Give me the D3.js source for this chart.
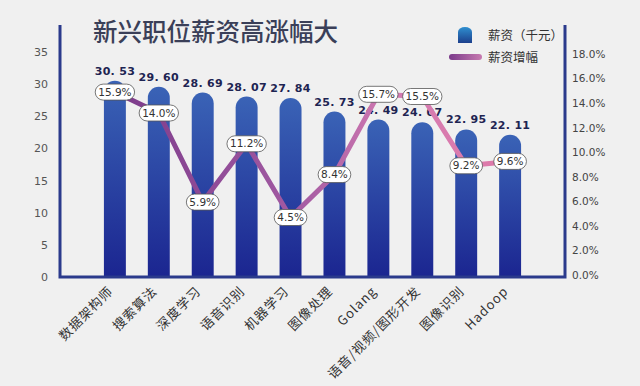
<!DOCTYPE html>
<html lang="zh">
<head>
<meta charset="UTF-8" />
<title>新兴职位薪资高涨幅大</title>
<script src="https://d3js.org/d3.v7.min.js"></script>
<style>
  body { margin: 0; background: #f0f0f0; }
  svg { display: block; font-family: "Noto Sans CJK SC", "Noto Sans", sans-serif; }
</style>
</head>
<body>
<script>
const categories = ['数据架构师', '搜索算法', '深度学习', '语音识别', '机器学习', '图像处理', 'Golang', '语音/视频/图形开发', '图像识别', 'Hadoop'];
const salary = [30.53, 29.60, 28.69, 28.07, 27.84, 25.73, 24.49, 24.07, 22.95, 22.11];
const growth = [15.9, 14.0, 5.9, 11.2, 4.5, 8.4, 15.7, 15.5, 9.2, 9.6];
const leftTicks = [0, 5, 10, 15, 20, 25, 30, 35];
const rightTicks = [0, 2, 4, 6, 8, 10, 12, 14, 16, 18];

const W = 640, H = 386;
const left = 60, right = 565, bottom = 277;
const navy = '#2b3a8c';

const svg = d3.select('body').append('svg').attr('width', W).attr('height', H);

const defs = svg.append('defs');
const barGrad = defs.append('linearGradient').attr('id', 'barGrad')
  .attr('x1', 0).attr('y1', 0).attr('x2', 0).attr('y2', 1);
barGrad.append('stop').attr('offset', '0%').attr('stop-color', '#3a63b6');
barGrad.append('stop').attr('offset', '100%').attr('stop-color', '#1b2590');

const lineGrad = defs.append('linearGradient').attr('id', 'lineGrad')
  .attr('gradientUnits', 'userSpaceOnUse')
  .attr('x1', 110).attr('y1', 0).attr('x2', 520).attr('y2', 0);
lineGrad.append('stop').attr('offset', '0%').attr('stop-color', '#7a3a8a');
lineGrad.append('stop').attr('offset', '45%').attr('stop-color', '#a25aa2');
lineGrad.append('stop').attr('offset', '70%').attr('stop-color', '#d47bb2');
lineGrad.append('stop').attr('offset', '100%').attr('stop-color', '#e07aa8');

const legGrad = defs.append('linearGradient').attr('id', 'legGrad')
  .attr('x1', 0).attr('y1', 0).attr('x2', 1).attr('y2', 0);
legGrad.append('stop').attr('offset', '0%').attr('stop-color', '#7a3a8a');
legGrad.append('stop').attr('offset', '100%').attr('stop-color', '#c77ab0');

const legIconGrad = defs.append('linearGradient').attr('id', 'legIconGrad')
  .attr('x1', 0).attr('y1', 0).attr('x2', 0).attr('y2', 1);
legIconGrad.append('stop').attr('offset', '0%').attr('stop-color', '#2f8fd0');
legIconGrad.append('stop').attr('offset', '100%').attr('stop-color', '#1c3f8c');

// scales
const x = d3.scaleBand().domain(categories).range([left, right])
  .paddingInner(0.5).paddingOuter(1);
const y = d3.scaleLinear().domain([0, 35]).range([bottom, 52]);
const yRight = d3.scaleLinear().domain([0, 18]).range([275, 54]);
const yLine = d3.scaleLinear().domain([0, 18]).range([267, 69]);

// title
svg.append('text')
  .attr('x', 93).attr('y', 41)
  .attr('font-size', 24.5).attr('fill', '#3a3f58')
  .attr('font-weight', 500)
  .text('新兴职位薪资高涨幅大');

// bars with rounded tops
const bw = x.bandwidth();
const r = bw / 2;
svg.append('g').selectAll('path')
  .data(salary)
  .join('path')
  .attr('fill', 'url(#barGrad)')
  .attr('d', (d, i) => {
    const x0 = x(categories[i]), top = y(d);
    return `M${x0},${bottom}L${x0},${top + r}A${r},${r} 0 0 1 ${x0 + bw},${top + r}L${x0 + bw},${bottom}Z`;
  });

// value labels above bars
svg.append('g').selectAll('text')
  .data(salary)
  .join('text')
  .attr('x', (d, i) => x(categories[i]) + bw / 2)
  .attr('y', d => y(d) - 6)
  .attr('text-anchor', 'middle')
  .attr('font-family', 'DejaVu Sans, sans-serif')
  .attr('font-weight', 'bold')
  .attr('font-size', 11)
  .attr('letter-spacing', 0.3)
  .attr('fill', '#1e2452')
  .text(d => d.toFixed(2).replace('.', '. '));

// axes lines
const axisG = svg.append('g').attr('stroke', navy).attr('stroke-width', 3).attr('fill', 'none');
axisG.append('path').attr('d', `M${left},25L${left},${bottom}L${right},${bottom}L${right},25`);

// left ticks
const yAxis = svg.append('g').attr('transform', `translate(${left},0)`)
  .call(d3.axisLeft(y).tickValues(leftTicks).tickSize(0).tickPadding(12));
yAxis.select('.domain').remove();
yAxis.selectAll('text').attr('font-family', 'DejaVu Sans, sans-serif')
  .attr('font-size', 11).attr('fill', '#555');

// right ticks
const yAxisR = svg.append('g').attr('transform', `translate(${right},0)`)
  .call(d3.axisRight(yRight).tickValues(rightTicks).tickSize(0).tickPadding(7)
    .tickFormat(d => d.toFixed(1) + '%'));
yAxisR.select('.domain').remove();
yAxisR.selectAll('text').attr('font-family', 'DejaVu Sans, sans-serif')
  .attr('font-size', 10.5).attr('fill', '#444');

// growth line
const line = d3.line()
  .x((d, i) => x(categories[i]) + bw / 2)
  .y(d => yLine(d));
svg.append('path')
  .datum(growth)
  .attr('d', line)
  .attr('fill', 'none')
  .attr('stroke', 'url(#lineGrad)')
  .attr('stroke-width', 5)
  .attr('stroke-linejoin', 'round');

// growth labels
const pl = svg.append('g').selectAll('g')
  .data(growth)
  .join('g')
  .attr('transform', (d, i) => `translate(${x(categories[i]) + bw / 2},${yLine(d)})`);
pl.append('rect');
pl.append('text')
  .attr('text-anchor', 'middle')
  .attr('dy', '0.35em')
  .attr('font-family', 'DejaVu Sans, sans-serif')
  .attr('font-size', 10.5)
  .attr('fill', '#333')
  .text(d => d.toFixed(1) + '%');
pl.each(function() {
  const t = d3.select(this).select('text');
  const w = t.node().getComputedTextLength() + 6;
  d3.select(this).select('rect')
    .attr('x', -w / 2).attr('y', -8).attr('width', w).attr('height', 16)
    .attr('rx', 8).attr('fill', '#fff').attr('stroke', '#555').attr('stroke-width', 0.8);
});

// category labels
svg.append('g').selectAll('text')
  .data(categories)
  .join('text')
  .attr('transform', d => `translate(${x(d) + bw / 2 - 1},${bottom + 15}) rotate(-45)`)
  .attr('text-anchor', 'end')
  .attr('font-size', 13)
  .attr('letter-spacing', 1)
  .attr('fill', '#333')
  .text(d => d);

// legend
const leg = svg.append('g');
leg.append('path')
  .attr('d', 'M458,43L458,32A7,5 0 0 1 472,32L472,43Z')
  .attr('fill', 'url(#legIconGrad)');
leg.append('text').attr('x', 488).attr('y', 40).attr('font-size', 12.5).attr('fill', '#333')
  .text('薪资（千元）');
leg.append('rect').attr('x', 449).attr('y', 54).attr('width', 33).attr('height', 6)
  .attr('rx', 3).attr('fill', 'url(#legGrad)');
leg.append('text').attr('x', 488).attr('y', 62).attr('font-size', 12.5).attr('fill', '#333')
  .text('薪资增幅');
</script>
</body>
</html>
